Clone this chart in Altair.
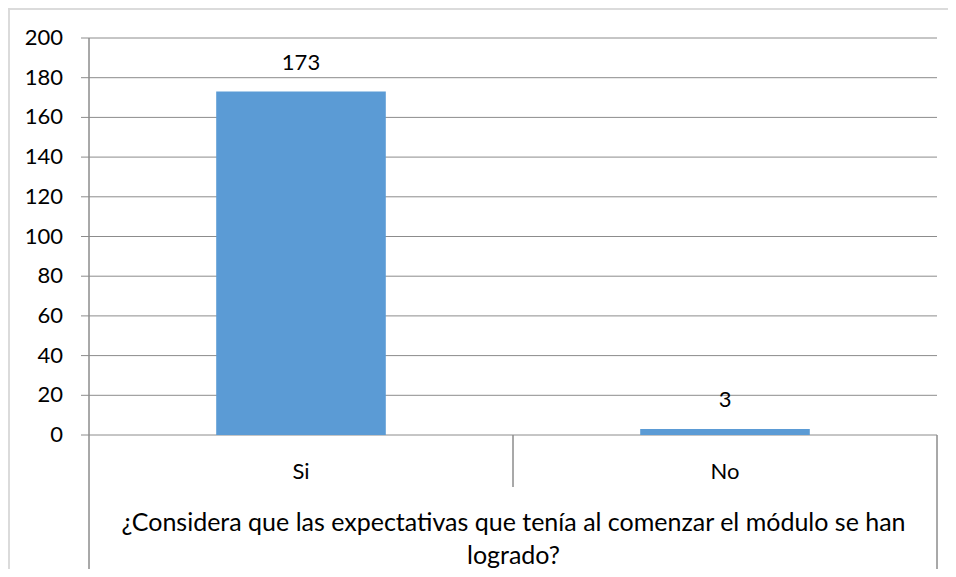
import altair as alt
import pandas as pd

categories = ["Si", "No"]
values = [173, 3]
y_ticks = [0, 20, 40, 60, 80, 100, 120, 140, 160, 180, 200]
title_lines = ["¿Considera que las expectativas que tenía al comenzar el módulo se han", "logrado?"]

W, H = 848, 397
PAD_L, PAD_T, PAD_R, PAD_B = 81, 30, 11, 134
GRAY = "#8c8c8c"
BORDER = "#d9d9d9"
FONT = "Lato"
BAR = "#5B9BD5"

df = pd.DataFrame({"cat": categories, "val": values})
ticks_df = pd.DataFrame({"val": y_ticks})

y_scale = alt.Scale(domain=[0, 200], nice=False)

x_enc = alt.X(
    "cat:N", sort=categories,
    scale=alt.Scale(paddingInner=0, paddingOuter=0),
    axis=alt.Axis(
        title=title_lines, labelAngle=0, labelFontSize=22, labelFont=FONT, labelColor="black",
        labelPadding=26, ticks=False, domain=False,
        titleFont=FONT, titleFontSize=25, titleFontWeight="normal", titleColor="black",
        titlePadding=28, titleLineHeight=33,
    ),
)
y_enc = alt.Y("val:Q", scale=y_scale, axis=None)

grid = alt.Chart(ticks_df).mark_rule(color=GRAY, strokeWidth=1).encode(
    y=y_enc, x=alt.value(-8), x2=alt.value(W)
)
ylabels = alt.Chart(ticks_df).mark_text(
    font=FONT, fontSize=22, color="black", align="right", baseline="middle"
).encode(y=y_enc, x=alt.value(-26), text="val:Q")

bars = alt.Chart(df).mark_bar(color=BAR, width={"band": 0.4}).encode(x=x_enc, y=y_enc)
labels = alt.Chart(df).mark_text(font=FONT, fontSize=22, color="black", baseline="middle", dy=-29).encode(
    x=x_enc, y=y_enc, text="val:Q"
)

r_left = alt.Chart(df).mark_rule(color=GRAY).encode(x=alt.value(0), y=alt.value(0), y2=alt.value(532))
r_mid = alt.Chart(df).mark_rule(color=GRAY).encode(x=alt.value(W / 2), y=alt.value(H), y2=alt.value(449))
r_right = alt.Chart(df).mark_rule(color=GRAY).encode(x=alt.value(W), y=alt.value(H), y2=alt.value(532))
b_left = alt.Chart(df).mark_rule(color=BORDER, strokeWidth=1.5).encode(
    x=alt.value(-PAD_L + 1), y=alt.value(-PAD_T), y2=alt.value(H + PAD_B)
)
b_top = alt.Chart(df).mark_rule(color=BORDER, strokeWidth=1.5).encode(
    x=alt.value(-PAD_L), x2=alt.value(W + PAD_R), y=alt.value(-PAD_T + 1)
)

chart = alt.layer(grid, ylabels, bars, labels, r_left, r_mid, r_right, b_left, b_top).properties(
    width=W, height=H,
    autosize=alt.AutoSizeParams(type="none"),
    padding={"left": PAD_L, "top": PAD_T, "right": PAD_R, "bottom": PAD_B},
    background="white",
).configure_view(stroke=None)

chart.save("out.html", embed_options={"renderer": "svg", "actions": False})
